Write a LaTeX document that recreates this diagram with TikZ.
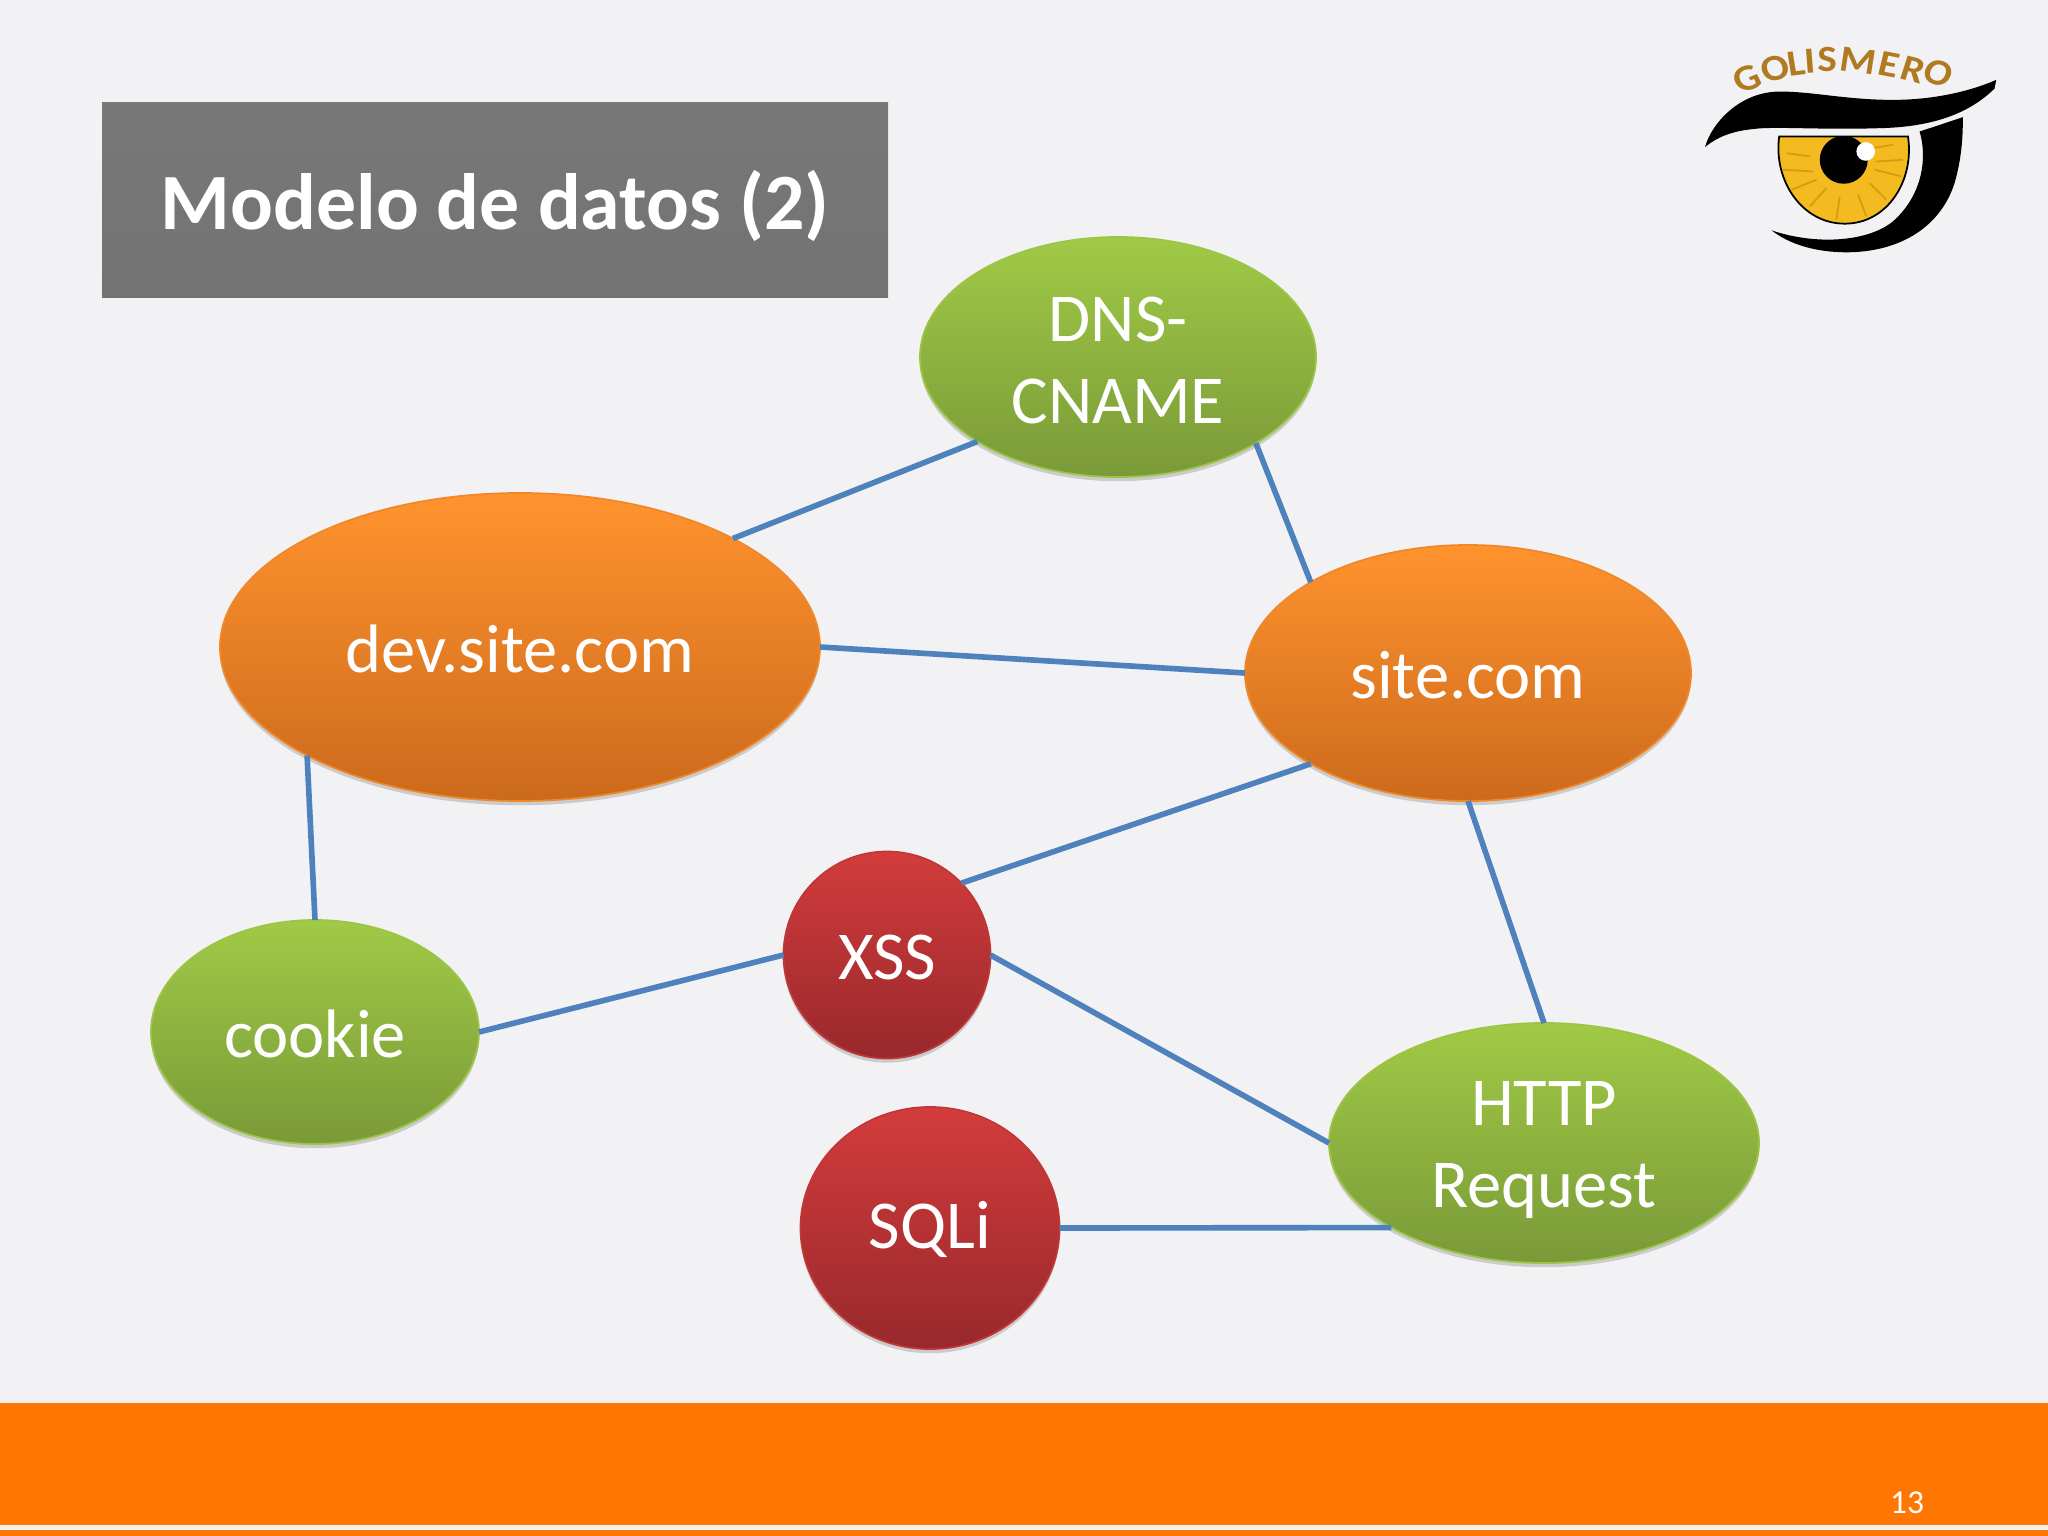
\documentclass[tikz,border=0pt]{standalone}
\usepackage{fontspec}
\setmainfont{Carlito}
\usetikzlibrary{shapes.geometric,shadows}
\definecolor{bgc}{HTML}{F2F2F4}
\definecolor{band}{HTML}{FF7700}
\definecolor{linkc}{HTML}{4F81BD}
\definecolor{gt}{HTML}{A0CA46}
\definecolor{gb}{HTML}{7A9A38}
\definecolor{ot}{HTML}{FF932E}
\definecolor{ob}{HTML}{CC6A1C}
\definecolor{rt}{HTML}{D33C3C}
\definecolor{rb}{HTML}{98282C}
\definecolor{logoy}{HTML}{F3BB1F}
\definecolor{logor}{HTML}{D99A12}
\definecolor{logob}{HTML}{B07A20}
\newcommand{\firstline}[1]{\rule{0pt}{#1}}
\tikzset{
  blob/.style={ellipse,inner sep=0pt,outer sep=0pt,text=white,align=center,
    font=\fontsize{19.5}{23.3}\selectfont,line width=0.5pt,
    drop shadow={shadow xshift=0pt,shadow yshift=-1.2pt,opacity=.16,fill=black}},
  greenb/.style={blob,draw=gt!90!gb,top color=gt,bottom color=gb},
  orangeb/.style={blob,draw=ot!70!ob,top color=ot,bottom color=ob},
  redb/.style={blob,draw=rt!70!rb,top color=rt,bottom color=rb},
  link/.style={draw=linkc,line width=1.6pt},
  logotext/.style={text=logob,inner sep=0pt,transform shape,xscale=1.12,font=\bfseries\fontsize{10.5}{11}\selectfont}
}
\begin{document}
\begin{tikzpicture}[x=0.01cm,y=-0.01cm]
\useasboundingbox (0,0) rectangle (2048,1536);
\fill[bgc] (0,0) rectangle (2048,1536);
% footer
\fill[band] (0,1403) rectangle (2048,1525);
\fill[band] (0,1530) rectangle (2048,1536);
\node[text=white,inner sep=0pt,font=\fontsize{9.5}{10}\selectfont] (pagenum) at (1907,1503) {13};
% title
\node[rectangle,minimum width=786*0.01cm,minimum height=195*0.01cm,inner sep=0pt,
  top color=black!53,bottom color=black!55,text=white,
  font=\bfseries\fontsize{22.7}{26}\selectfont] (title) at (495,200) {\firstline{20pt}Modelo de datos (2)};
% nodes
\node[greenb,minimum width=396*0.01cm,minimum height=240*0.01cm] (dns) at (1118,357) {\firstline{14.8pt}DNS-\\CNAME};
\node[orangeb,minimum width=600*0.01cm,minimum height=308*0.01cm] (dev) at (520,647) {\firstline{14.8pt}dev.site.com};
\node[orangeb,minimum width=446*0.01cm,minimum height=256*0.01cm] (site) at (1468,673) {\firstline{14.8pt}site.com};
\node[greenb,minimum width=328*0.01cm,minimum height=224*0.01cm] (cookie) at (315,1032) {\firstline{14.8pt}cookie};
\node[redb,minimum width=207*0.01cm,minimum height=207*0.01cm] (xss) at (887,955) {\firstline{14pt}XSS};
\node[redb,minimum width=259*0.01cm,minimum height=242*0.01cm] (sqli) at (930,1228) {\firstline{14pt}SQLi};
\node[greenb,minimum width=430*0.01cm,minimum height=240*0.01cm] (http) at (1544,1143) {\firstline{16.5pt}HTTP\\Request};
% connectors
\draw[link] (dns.211.6) -- (dev.27.1);
\draw[link] (dns.-32.2) -- (site.150.6);
\draw[link] (dev.0) -- (site.180);
\draw[link] (dev.207.4) -- (cookie.90);
\draw[link] (site.210.2) -- (xss.44);
\draw[link] (cookie.0) -- (xss.180);
\draw[link] (xss.0) -- (http.180);
\draw[link] (site.270) -- (http.90);
\draw[link] (sqli.0) -- (http.209.4);
% logo (coordinates measured in a 3x crop)
\begin{scope}[shift={(1680,20)},x=0.003333cm,y=-0.003333cm]
  \fill[black] (75,382) .. controls (95,310) and (180,215) .. (300,215)
     .. controls (400,215) and (500,240) .. (640,240)
     .. controls (760,240) and (870,215) .. (950,180)
     .. controls (948,192) and (946,200) .. (945,206)
     .. controls (860,290) and (740,322) .. (600,325)
     .. controls (450,330) and (330,322) .. (250,325)
     .. controls (170,330) and (120,345) .. (75,382) -- cycle;
  \fill[black] (850,292) .. controls (810,305) and (760,322) .. (720,335)
     .. controls (745,420) and (725,530) .. (640,605)
     .. controls (560,670) and (400,675) .. (275,632)
     .. controls (330,675) and (410,698) .. (500,698)
     .. controls (650,698) and (780,630) .. (825,490)
     .. controls (845,420) and (850,360) .. (850,292) -- cycle;
  \filldraw[fill=logoy,draw=black,line width=0.5pt] (298,350) -- (685,350)
     .. controls (705,480) and (625,612) .. (495,612)
     .. controls (365,612) and (280,480) .. (298,350) -- cycle;
  \foreach \a/\b/\c/\d in {320/400/390/410, 310/450/400/455, 335/510/410/480, 390/560/440/505,
     470/600/480/530, 560/590/535/525, 620/540/570/490, 665/470/585/450, 670/420/590/425, 640/375/575/385}
    \draw[logor,line width=0.5pt] (\a,\b) -- (\c,\d);
  \begin{scope}
    \clip (298,351) rectangle (685,620);
    \fill[black] (492,420) circle[radius=72];
  \end{scope}
  \fill[white] (558,395) circle[radius=28];
  \foreach \ch/\px/\py/\rot [count=\i] in {G/202/176/24, O/285/145/16, L/350/130/8, I/392/124/4, S/442/118/0,
      M/535/122/-8, E/628/135/-12, R/700/150/-16, O/778/158/-22}
    \node[logotext,rotate=\rot] (logo\i) at (\px,\py) {\ch};
\end{scope}
\end{tikzpicture}
\end{document}
